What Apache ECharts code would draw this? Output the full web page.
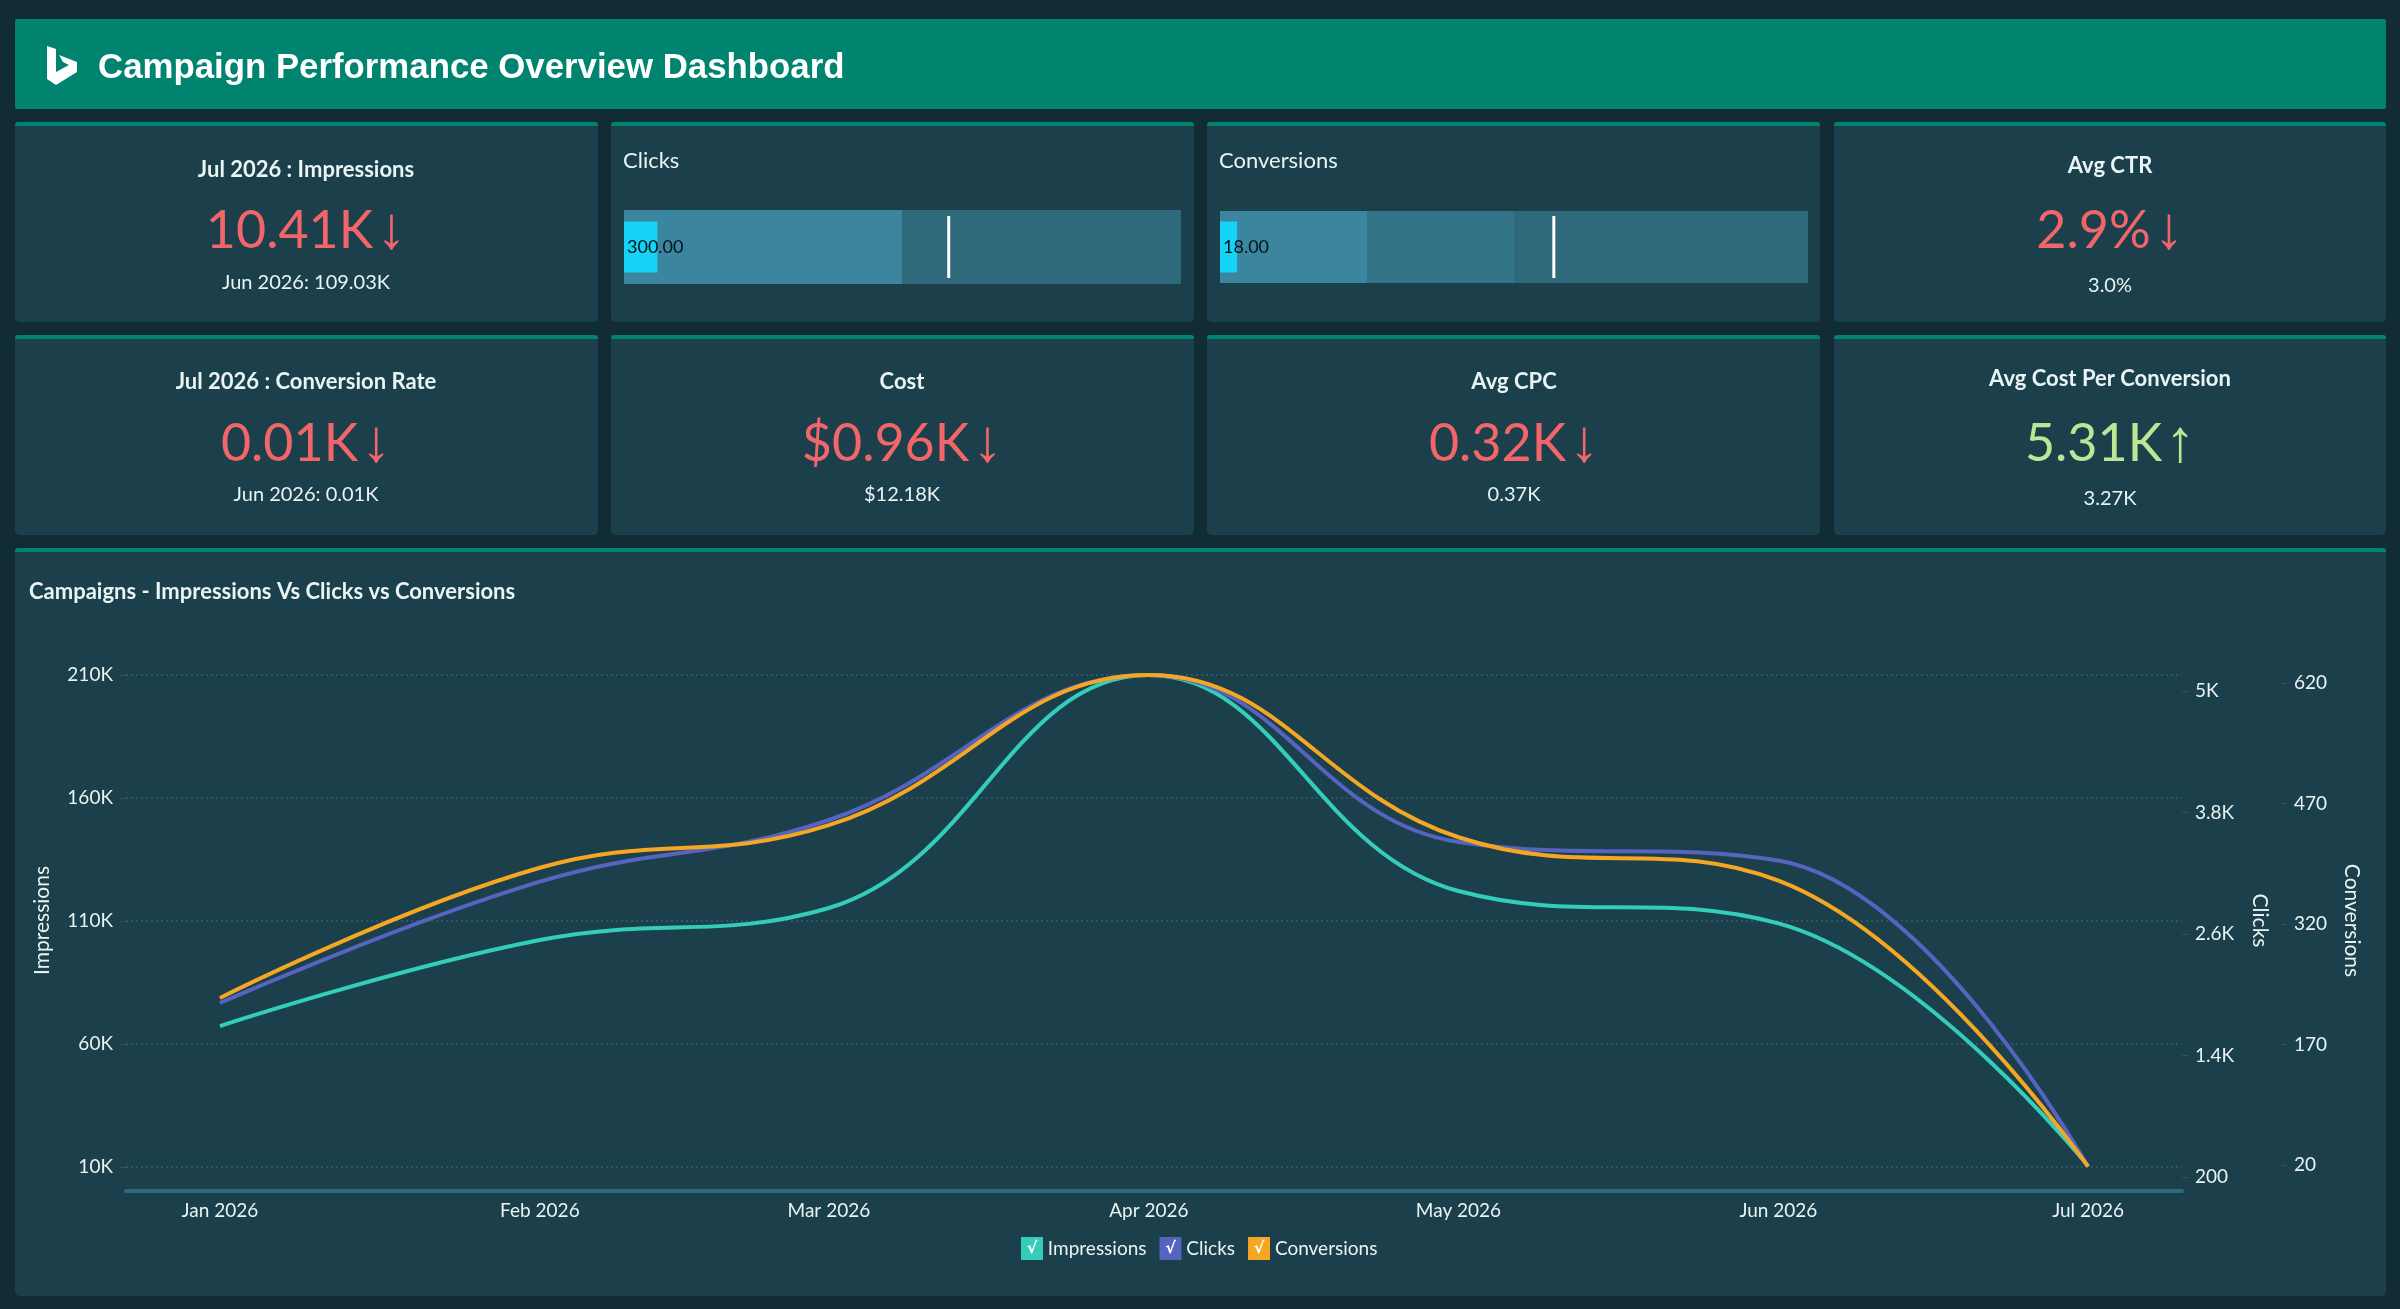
<!DOCTYPE html>
<html>
<head>
<meta charset="UTF-8">
<title>Campaign Performance Overview Dashboard</title>
<script src="https://cdn.jsdelivr.net/npm/echarts@6/dist/echarts.min.js"></script>
<style>
  html, body { margin: 0; height: 100%; background: #122c36; }
  #chart { width: 2400px; height: 1309px; }
</style>
</head>
<body>
<div id="chart"></div>
<script>
// line chart
var months = ['2026-01-01', '2026-02-01', '2026-03-01', '2026-04-01', '2026-05-01', '2026-06-01', '2026-07-01'];
var impressions = [67300, 102300, 115300, 210000, 122200, 109030, 10410];
var clicks = [1919, 3117, 3726, 5158, 3509, 3325, 300];
var conversions = [228, 390, 443, 630, 428, 374, 18];
var impressionTicks = [10000, 60000, 110000, 160000, 210000];
var clickTicks = [200, 1400, 2600, 3800, 5000];
var conversionTicks = [20, 170, 320, 470, 620];

// bullets
var clickBands = [2500, 2500];
var clickValue = 300;
var clickTarget = 2915;
var conversionBands = [155, 155, 310];
var conversionValue = 18;
var conversionTarget = 352;

// kpi cards: title, value, arrow, sub text
var kpiTitles = ['Jul 2026 : Impressions', 'Avg CTR', 'Jul 2026 : Conversion Rate', 'Cost', 'Avg CPC', 'Avg Cost Per Conversion'];
var kpiValues = ['10.41K', '2.9%', '0.01K', '$0.96K', '0.32K', '5.31K'];
var kpiArrows = ['↓', '↓', '↓', '↓', '↓', '↑'];
var kpiSubs = ['Jun 2026: 109.03K', '3.0%', 'Jun 2026: 0.01K', '$12.18K', '0.37K', '3.27K'];

var FONT = 'Lato';
var TEXT = '#e9f4f4';
var CARD = '#1b3f4b';
var GREEN = '#01846f';
var BAND1 = '#3b869e', BAND2 = '#337488', BAND3 = '#2f6a7c';
var RED = '#f2666a', UP = '#bce596';

function card(x, y, w, h) {
    return [
        { type: 'rect', z: -10, shape: { x: x, y: y, width: w, height: h, r: 5 }, style: { fill: CARD } },
        { type: 'rect', z: -9, shape: { x: x, y: y, width: w, height: 4, r: [3, 3, 0, 0] }, style: { fill: GREEN } }
    ];
}

function label(text, x, y, size, weight, align) {
    return {
        type: 'text', z: 5, x: x, y: y,
        style: { text: text, fill: TEXT, font: weight + ' ' + size + 'px ' + FONT, align: align || 'center', verticalAlign: 'middle' }
    };
}

function kpi(i, cx, ys) {
    var color = kpiArrows[i] === '↑' ? UP : RED;
    return [
        label(kpiTitles[i], cx, ys[0], 22, 700),
        {
            type: 'text', z: 5, x: cx, y: ys[1],
            style: {
                text: '{v|' + kpiValues[i] + '}{a|' + kpiArrows[i] + '}',
                align: 'center', verticalAlign: 'middle',
                rich: {
                    v: { font: '400 52px ' + FONT, fill: color, padding: [0, 3, 0, 0] },
                    a: { font: '400 60px "Liberation Sans"', fill: color }
                }
            }
        },
        label(kpiSubs[i], cx, ys[2], 20, 400)
    ];
}

var graphics = [].concat(
    [{ type: 'rect', z: -10, shape: { x: 15, y: 19, width: 2371, height: 90, r: 2 }, style: { fill: GREEN } }],
    // bing mark
    [{ type: 'polygon', z: 5, shape: { points: [[47, 46], [56, 49], [56, 72], [69, 65], [63, 62], [59, 55], [77, 62], [77, 72], [56, 85], [47, 79]] }, style: { fill: '#fff' } }],
    [{ type: 'text', z: 5, x: 98, y: 68, style: { text: 'Campaign Performance Overview Dashboard', fill: '#fff', font: '700 34.8px "Liberation Sans"', verticalAlign: 'middle' } }],
    card(15, 122, 583, 200), card(611, 122, 583, 200), card(1207, 122, 613, 200), card(1834, 122, 552, 200),
    card(15, 335, 583, 200), card(611, 335, 583, 200), card(1207, 335, 613, 200), card(1834, 335, 552, 200),
    card(15, 548, 2371, 748),
    kpi(0, 306, [170, 231, 283]),
    kpi(1, 2110, [166, 231, 286]),
    kpi(2, 306, [382, 444, 495]),
    kpi(3, 902, [382, 444, 495]),
    kpi(4, 1514, [382, 444, 495]),
    kpi(5, 2110, [379, 444, 499]),
    [label('Clicks', 623, 161, 22, 400, 'left'), label('Conversions', 1219, 161, 22, 400, 'left')],
    [label('Campaigns - Impressions Vs Clicks vs Conversions', 29, 592, 22, 700, 'left')]
);

function kLabel(v) {
    return v >= 1000 ? (v / 1000) + 'K' : String(v);
}

function valueAxis(ticks, min, max, extra) {
    return Object.assign({
        type: 'value', gridIndex: 0, min: min, max: max,
        axisLine: { show: false },
        axisTick: { show: true, length: 6, customValues: ticks, lineStyle: { color: '#2d5561' } },
        axisLabel: { customValues: ticks, formatter: kLabel, color: TEXT, fontFamily: FONT, fontSize: 19, margin: 13 },
        splitLine: { show: false },
        nameLocation: 'middle'
    }, extra);
}

function bulletAxes(gridIndex) {
    var y = { type: 'category', gridIndex: gridIndex, data: [''], show: false };
    return [y, Object.assign({}, y)];
}

function bandSeries(bands, colors, xi, yi) {
    return bands.map(function (b, i) {
        return {
            type: 'bar', xAxisIndex: xi, yAxisIndex: yi, stack: 'bands' + xi, barWidth: '100%',
            silent: true, data: [b], itemStyle: { color: colors[i] }
        };
    });
}

function valueBar(v, xi, yi) {
    return {
        type: 'bar', xAxisIndex: xi, yAxisIndex: yi, barWidth: 51, z: 4, silent: true,
        data: [v], itemStyle: { color: '#16d2f5' },
        label: {
            show: true, position: 'insideLeft', distance: 3, color: '#04141a', fontFamily: FONT, fontSize: 18,
            formatter: function (p) { return p.value.toFixed(2); }
        }
    };
}

function targetMark(v, xi, yi) {
    return {
        type: 'scatter', xAxisIndex: xi, yAxisIndex: yi, z: 5, silent: true,
        symbol: 'rect', symbolSize: [3, 62], data: [[v, '']], itemStyle: { color: '#ffffff', opacity: 1 }
    };
}

function lineSeries(name, data, color, yi) {
    return {
        name: name, type: 'line', yAxisIndex: yi, smooth: 0.42, showSymbol: false, z: 3 + yi,
        lineStyle: { color: color, width: 4 }, itemStyle: { color: color },
        data: months.map(function (m, i) { return [m, data[i]]; })
    };
}

function legendText(name) {
    return '{' + name + '|√} ' + name;
}

function legendBox(color) {
    return { backgroundColor: color, color: '#fff', width: 22, height: 23, align: 'center', fontFamily: 'DejaVu Sans', fontSize: 16, fontWeight: 700 };
}

var day = 864e5;
var start = +echarts.time.parse(months[0]);
var end = +echarts.time.parse(months[months.length - 1]);

var option = {
    backgroundColor: '#122c36',
    animation: false,
    textStyle: { fontFamily: FONT },
    graphic: { elements: graphics },
    grid: [
        { left: 126, top: 675, width: 2056, height: 517 },
        { left: 624, top: 210, width: 557, height: 74 },
        { left: 1220, top: 211, width: 588, height: 72 }
    ],
    xAxis: [
        {
            type: 'time', gridIndex: 0, min: start - 9.1 * day, max: end + 9.1 * day, offset: -1,
            axisLine: { lineStyle: { color: '#2f6a7c', width: 4 } },
            axisTick: { show: false },
            splitLine: { show: false },
            axisLabel: {
                customValues: months.map(function (m) { return +echarts.time.parse(m); }),
                formatter: '{MMM} {yyyy}', color: TEXT, fontFamily: FONT, fontSize: 19, margin: 10, hideOverlap: false
            }
        },
        { type: 'value', gridIndex: 1, min: 0, max: 5000, show: false },
        { type: 'value', gridIndex: 2, min: 0, max: 620, show: false }
    ],
    yAxis: [
        valueAxis(impressionTicks, -163, 210000, {
            position: 'left', name: 'Impressions', nameGap: 73, nameRotate: 90,
            nameTextStyle: { color: TEXT, fontFamily: FONT, fontSize: 21, padding: [0, 0, 0, 26] },
            splitLine: { show: true, customValues: impressionTicks, lineStyle: { color: '#33606c', type: [2, 3], width: 1.5 } }
        }),
        valueAxis(clickTicks, 52, 5158, {
            position: 'right', name: 'Clicks', nameGap: 67, nameRotate: -90,
            nameTextStyle: { color: TEXT, fontFamily: FONT, fontSize: 21, padding: [0, 26, 0, 0] }
        }),
        valueAxis(conversionTicks, -13.6, 630, {
            position: 'right', offset: 99, name: 'Conversions', nameGap: 60, nameRotate: -90,
            nameTextStyle: { color: TEXT, fontFamily: FONT, fontSize: 21, padding: [0, 26, 0, 0] }
        })
    ].concat(bulletAxes(1), bulletAxes(2)),
    legend: {
        left: 1011, top: 1232, icon: 'rect', itemWidth: 0, itemHeight: 0, itemGap: 8, selectedMode: false,
        data: ['Impressions', 'Clicks', 'Conversions'],
        formatter: legendText,
        textStyle: {
            color: TEXT, fontFamily: FONT, fontSize: 19,
            rich: {
                Impressions: legendBox('#33cdb9'),
                Clicks: legendBox('#5663bf'),
                Conversions: legendBox('#f5a623')
            }
        }
    },
    series: [
        lineSeries('Impressions', impressions, '#33cdb9', 0),
        lineSeries('Clicks', clicks, '#5663bf', 1),
        lineSeries('Conversions', conversions, '#f5a623', 2)
    ].concat(
        bandSeries(clickBands, [BAND1, BAND3], 1, 3),
        [valueBar(clickValue, 1, 4), targetMark(clickTarget, 1, 3)],
        bandSeries(conversionBands, [BAND1, BAND2, BAND3], 2, 5),
        [valueBar(conversionValue, 2, 6), targetMark(conversionTarget, 2, 5)]
    )
};

var myChart = echarts.init(document.getElementById('chart'));
myChart.setOption(option);
</script>
</body>
</html>
